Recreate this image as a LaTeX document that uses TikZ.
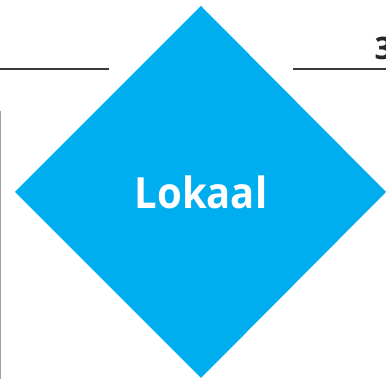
\documentclass[tikz,border=0pt]{standalone}
\usepackage{fontspec}
\setmainfont{Open Sans}
\usepackage{graphicx}
\usetikzlibrary{shapes.geometric}
\definecolor{cyanfill}{HTML}{00AEEF}
\definecolor{rulegray}{HTML}{3A3A3C}
\definecolor{sidegray}{HTML}{A0A0A4}
\tikzset{x=1pt,y=1pt,
  toprule/.style={draw=rulegray,line width=1.7pt},
  siderule/.style={draw=sidegray,line width=1.8pt},
  tile/.style={fill=cyanfill,draw=none}}
\begin{document}
\begin{tikzpicture}
\useasboundingbox (0,0) rectangle (386,379);
\begin{scope}
\clip (0,0) rectangle (386,379);
\coordinate (ruleLa) at (0,310);
\coordinate (ruleLb) at (109,310);
\coordinate (ruleRa) at (293,310);
\coordinate (ruleRb) at (386,310);
\coordinate (sideA) at (0,268);
\coordinate (sideB) at (0,0);
\draw[toprule] (ruleLa) -- (ruleLb);
\draw[toprule] (ruleRa) -- (ruleRb);
\draw[siderule] (sideA) -- (sideB);
\coordinate (dT) at (201,373);
\coordinate (dR) at (386,187);
\coordinate (dB) at (201,1);
\coordinate (dL) at (15,187);
\fill[tile] (dT) -- (dR) -- (dB) -- (dL) -- cycle;
\node[anchor=base,text=white,font=\fontsize{43}{43}\selectfont\bfseries,inner sep=0pt] (title) at (201,170.5) {\scalebox{0.93}[1]{Lokaal}};
\node[anchor=base west,text=black!85,font=\fontsize{31}{31}\selectfont\bfseries,inner sep=0pt] (pagenum) at (374.5,319) {3};
\end{scope}
\end{tikzpicture}
\end{document}
